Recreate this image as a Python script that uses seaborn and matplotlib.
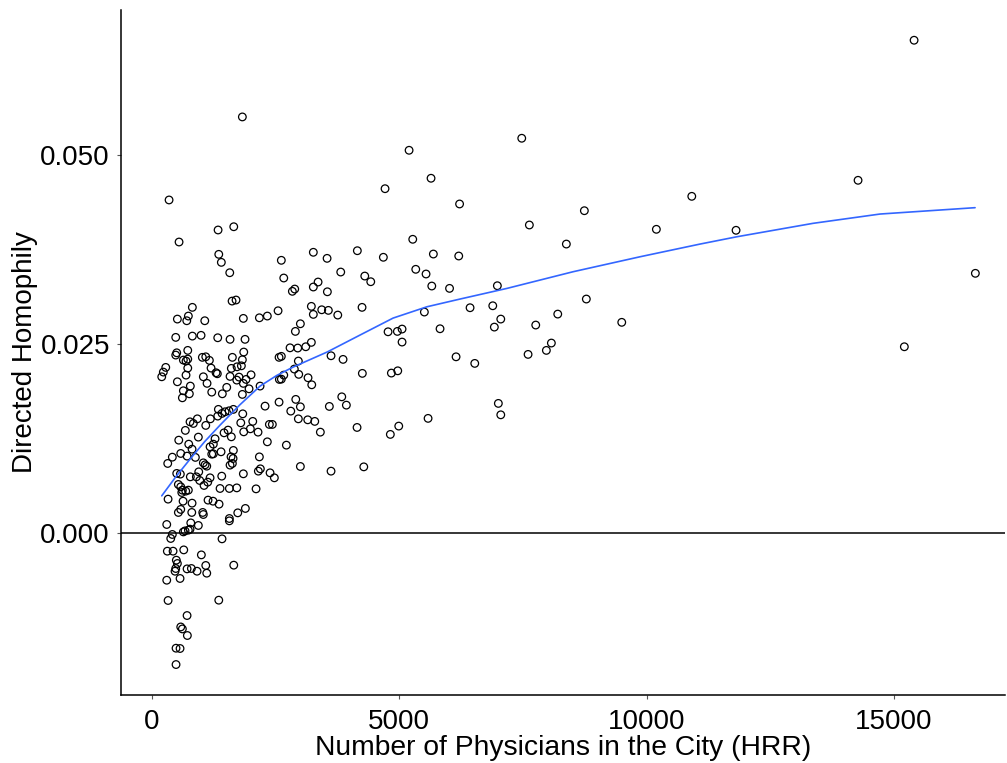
import numpy as np
import pandas as pd
import seaborn as sns
import matplotlib.pyplot as plt
from matplotlib.ticker import StrMethodFormatter

# DATA : one point per city (HRR)
physicians = [
    1826, 344, 1652, 1335, 546, 1349, 1401, 1571, 1618, 1698,
    5197, 5641, 4711,
    815, 512, 734, 702, 1066, 1846, 2170, 2331, 479, 815,
    991, 1328, 1577, 1880, 722, 499, 479, 1854, 633, 687,
    722, 1017, 1086, 1159, 1624, 1826, 277, 722, 1193, 1603,
    1719, 1806, 1320, 1294, 228, 196, 687, 1037, 1577, 2002,
    1713, 1759, 1901, 512, 1112, 1846, 774, 633, 613, 754,
    1207, 1510, 1421, 1961, 2184, 1826, 2285, 1341, 1476, 1557,
    1644, 1328, 1415, 1834, 768, 835, 916, 1179, 1086, 673,
    1537, 1456, 1603, 1794, 2036, 1988, 2143, 1854, 936, 540,
    1274, 1239, 1173, 742, 809, 1644, 1395, 1207, 1239, 580,
    410, 708, 876, 1597, 1638, 317, 1037, 1072, 1577, 1624,
    2170, 2149, 2190, 1106, 499, 572, 944, 896, 964, 1173,
    1126, 1051, 774, 1409, 1846, 532, 580, 613, 681, 601,
    734, 1375, 1563, 1713, 2103, 324, 627, 809, 1132, 1233,
    1355,
    532, 580, 803, 1025, 1037, 1563, 1563, 1733, 1887, 297,
    783, 936, 633, 667, 734, 768, 410, 378, 1415, 309,
    425, 641, 997, 491, 512, 479, 465, 708, 795, 910,
    1086, 1106, 1652, 297, 566, 324, 1349, 708, 580, 613,
    714, 485, 566, 485,
    6218, 2614, 3261, 3539, 4151, 4677, 5271, 5688, 6201, 2663,
    3815, 4301, 4422, 3357, 3261, 2837, 2885, 3545, 5332, 5540,
    5656, 6015, 2548, 3221, 3261, 3431, 3565, 3755, 4246, 5506,
    2999, 2898, 4772, 4960, 5055, 5055, 5823, 2790, 2946, 3108,
    3221, 2568, 2614, 2958, 3619, 3862, 6147, 2877, 2966, 2574,
    2614, 2663, 3154, 3229, 4252, 4839, 4968, 2568, 2906, 2999,
    2805, 3836, 3929, 3585, 2958, 3148, 3290, 2372, 2432, 3403,
    4145, 5581, 4988, 4818, 2331, 2716, 2386, 2473, 2999, 3619,
    4281,
    7475, 8741, 7629, 8377, 10913, 10197, 6982, 6430, 6889, 7051,
    6921, 7758, 8203, 8781, 9497, 6525, 7603, 7973, 8074, 7002,
    7051,
    15408, 14275, 11808, 16647, 15211,
]

homophily = [
    0.05504, 0.04406, 0.04052, 0.04009, 0.03850, 0.03687, 0.03581, 0.03444, 0.03069, 0.03083,
    0.05063, 0.04693, 0.04555,
    0.02986, 0.02831, 0.02871, 0.02809, 0.02809, 0.02840, 0.02848, 0.02871, 0.02589, 0.02606,
    0.02616, 0.02584, 0.02563, 0.02563, 0.02417, 0.02385, 0.02355, 0.02395, 0.02289, 0.02276,
    0.02302, 0.02325, 0.02332, 0.02285, 0.02325, 0.02293, 0.02192, 0.02183, 0.02183, 0.02179,
    0.02200, 0.02213, 0.02108, 0.02121, 0.02130, 0.02068, 0.02090, 0.02068, 0.02073, 0.02094,
    0.02024, 0.02064, 0.02033, 0.02002, 0.01981, 0.01981, 0.01945, 0.01883, 0.01790, 0.01843,
    0.01865, 0.01928, 0.01843, 0.01909, 0.01945, 0.01835, 0.01680, 0.01637, 0.01605, 0.01618,
    0.01637, 0.01548, 0.01584, 0.01578, 0.01472, 0.01451, 0.01512, 0.01512, 0.01425, 0.01359,
    0.01363, 0.01327, 0.01274, 0.01459, 0.01478, 0.01380, 0.01336, 0.01340, 0.01270, 0.01230,
    0.01248, 0.01177, 0.01142, 0.01177, 0.01111, 0.01094, 0.01076, 0.01045, 0.01049, 0.01054,
    0.01005, 0.01019, 0.01002, 0.01009, 0.00988, 0.00922, 0.00930, 0.00904, 0.00900, 0.00922,
    0.01009, 0.00820, 0.00851, 0.00886, 0.00790, 0.00781, 0.00811, 0.00745, 0.00697, 0.00732,
    0.00675, 0.00631, 0.00745, 0.00754, 0.00785, 0.00644, 0.00613, 0.00569, 0.00556, 0.00538,
    0.00569, 0.00591, 0.00591, 0.00599, 0.00586, 0.00450, 0.00423, 0.00397, 0.00437, 0.00423,
    0.00384,
    0.00274, 0.00314, 0.00274, 0.00274, 0.00247, 0.00194, 0.00163, 0.00269, 0.00327, 0.00115,
    0.00136, 0.00102, 0.00017, 0.00030, 0.00040, 0.00053, -0.00017, -0.00070, -0.00075, -0.00238,
    -0.00238, -0.00221, -0.00287, -0.00357, -0.00401, -0.00467, -0.00503, -0.00472, -0.00467, -0.00503,
    -0.00427, -0.00529, -0.00423, -0.00622, -0.00599, -0.00890, -0.00886, -0.01089, -0.01240, -0.01266,
    -0.01353, -0.01521, -0.01525, -0.01737,
    0.04353, 0.03608, 0.03714, 0.03634, 0.03735, 0.03648, 0.03886, 0.03691, 0.03665, 0.03374,
    0.03453, 0.03400, 0.03325, 0.03321, 0.03255, 0.03198, 0.03228, 0.03192, 0.03489, 0.03427,
    0.03268, 0.03237, 0.02941, 0.02999, 0.02893, 0.02954, 0.02946, 0.02884, 0.02986, 0.02924,
    0.02769, 0.02668, 0.02663, 0.02668, 0.02699, 0.02527, 0.02703, 0.02451, 0.02448, 0.02465,
    0.02523, 0.02325, 0.02338, 0.02276, 0.02346, 0.02298, 0.02332, 0.02170, 0.02100, 0.02033,
    0.02037, 0.02090, 0.02055, 0.01962, 0.02113, 0.02117, 0.02147, 0.01733, 0.01769, 0.01671,
    0.01614, 0.01803, 0.01693, 0.01676, 0.01512, 0.01499, 0.01478, 0.01438, 0.01438, 0.01336,
    0.01398, 0.01518, 0.01416, 0.01306, 0.01208, 0.01164, 0.00798, 0.00732, 0.00882, 0.00820,
    0.00877,
    0.05222, 0.04264, 0.04075, 0.03823, 0.04454, 0.04018, 0.03272, 0.02981, 0.03007, 0.02831,
    0.02725, 0.02752, 0.02897, 0.03096, 0.02788, 0.02245, 0.02364, 0.02417, 0.02514, 0.01716,
    0.01565,
    0.06518, 0.04666, 0.04005, 0.03436, 0.02465,
]

# smoothed fit (blue line)
fit_x = [196, 480, 768, 1070, 1375, 1780, 2184, 2520, 2851, 3539, 4206, 4873, 5560, 6228,
         7178, 8513, 9867, 11081, 11829, 13365, 14720, 16641]
fit_y = [0.00494, 0.00745, 0.00979, 0.01215, 0.01429, 0.01700, 0.01945, 0.02085, 0.02196, 0.02395,
         0.02620, 0.02844, 0.02994, 0.03096, 0.03237, 0.03457, 0.03655, 0.03823, 0.03920, 0.04097,
         0.04220, 0.04304]

x_ticks = [0, 5000, 10000, 15000]
y_ticks = [0.0, 0.025, 0.050]

df = pd.DataFrame({'PHYS': physicians, 'HOM': homophily})
fit = pd.DataFrame({'PHYS': fit_x, 'HOM': fit_y})

# STYLE
sns.set_style('ticks')
plt.rcParams['font.family'] = ['Liberation Sans', 'DejaVu Sans']
plt.rcParams['text.color'] = 'black'
plt.rcParams['axes.labelcolor'] = 'black'

fig = plt.figure(figsize=(10.07, 7.63), dpi=100)
ax = fig.add_axes([0.1202, 0.0891, 0.878, 0.898])

ax.axhline(0, color='black', lw=1.1, zorder=1)
sns.scatterplot(data=df, x='PHYS', y='HOM', ax=ax, color='none', edgecolor='black',
                s=30, linewidth=0.9, zorder=3)
sns.lineplot(data=fit, x='PHYS', y='HOM', ax=ax, color='#3366FF', lw=1.2, sort=False, zorder=4)

ax.set_xlim(-627, 17250)
ax.set_ylim(-0.0214, 0.0692)
ax.set_xticks(x_ticks)
ax.set_yticks(y_ticks)
ax.yaxis.set_major_formatter(StrMethodFormatter('{x:.3f}'))

for side in ['top', 'right']:
    ax.spines[side].set_visible(False)
for side in ['left', 'bottom']:
    ax.spines[side].set_color('black')
    ax.spines[side].set_linewidth(1.1)

ax.tick_params(axis='both', direction='out', length=3, width=0.8, color='#555555',
               labelsize=20, labelcolor='black')
ax.tick_params(axis='x', pad=7)
ax.tick_params(axis='y', pad=5)

ax.set_xlabel('Number of Physicians in the City (HRR)', fontsize=20.3, labelpad=0, color='black')
ax.set_ylabel('Directed Homophily', fontsize=20, labelpad=2, color='black')

plt.savefig('out.png', dpi=100)
